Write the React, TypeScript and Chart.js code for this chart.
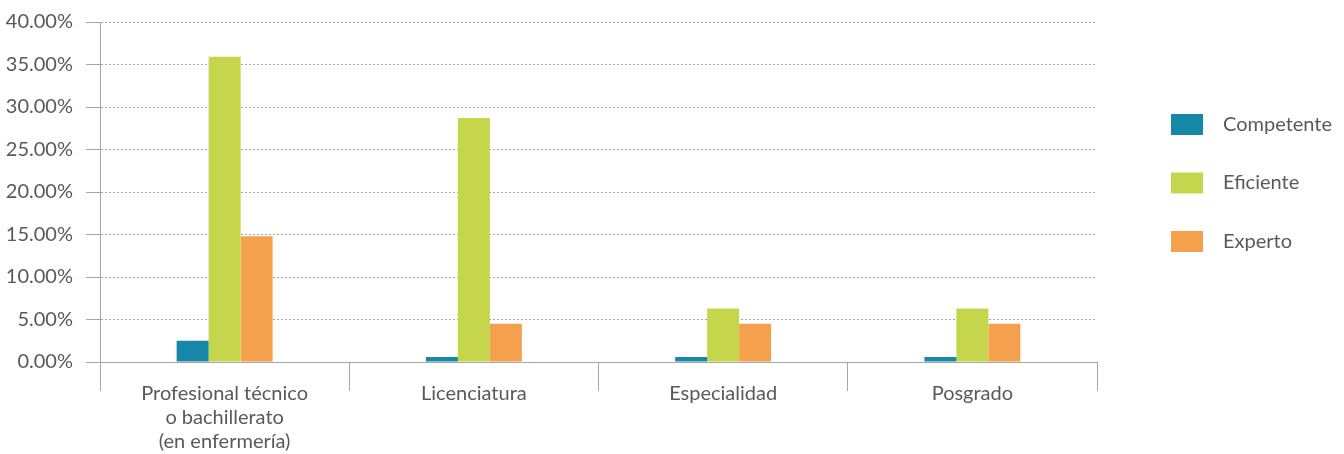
import React, { useEffect, useRef } from "react";
import { Chart, registerables } from "chart.js";

Chart.register(...registerables);

const categories: (string | string[])[] = [
  ["Profesional técnico", "o bachillerato", "(en enfermería)"],
  "Licenciatura",
  "Especialidad",
  "Posgrado",
];
const seriesNames = ["Competente", "Eficiente", "Experto"];
const competente = [2.5, 0.6, 0.6, 0.6];
const eficiente = [35.9, 28.7, 6.3, 6.3];
const experto = [14.8, 4.5, 4.5, 4.5];
const colors = ["#1787a8", "#c5d54c", "#f5a04d"];
const yTicks = [0, 5, 10, 15, 20, 25, 30, 35, 40];

const FONT = "Lato";
const TEXT = "#595959";
const GRID = "#a6a6a6";

const legendPlugin = {
  id: "sideLegend",
  afterDraw(chart: any) {
    const ctx = chart.ctx;
    ctx.save();
    ctx.font = `20px ${FONT}`;
    ctx.textBaseline = "middle";
    ctx.textAlign = "left";
    chart.data.datasets.forEach((ds: any, i: number) => {
      const cy = 124.5 + i * 58.5;
      ctx.fillStyle = ds.backgroundColor;
      ctx.fillRect(1171, cy - 10.5, 32, 21);
      ctx.fillStyle = TEXT;
      ctx.fillText(ds.label, 1223, cy);
    });
    ctx.restore();
  },
};

export default function App() {
  const ref = useRef<HTMLCanvasElement>(null);
  useEffect(() => {
    document.body.style.margin = "0";
    const chart = new Chart(ref.current!, {
      type: "bar",
      data: {
        labels: categories,
        datasets: [competente, eficiente, experto].map((d, i) => ({
          label: seriesNames[i],
          data: d,
          backgroundColor: colors[i],
          categoryPercentage: 0.385,
          barPercentage: 1,
        })),
      },
      options: {
        animation: false,
        responsive: false,
        layout: { padding: { top: 22, right: 247, bottom: 0, left: 0 } },
        plugins: { legend: { display: false }, tooltip: { enabled: false } },
        scales: {
          x: {
            offset: true,
            grid: {
              offset: true,
              drawOnChartArea: false,
              drawTicks: true,
              tickLength: 29,
              color: GRID,
              tickColor: GRID,
            },
            border: { display: true, color: GRID, width: 1 },
            ticks: {
              color: TEXT,
              font: { family: FONT, size: 20, lineHeight: 1.2 },
              padding: -9,
              maxRotation: 0,
              autoSkip: false,
            },
            afterFit(scale: any) {
              scale.height = 92;
            },
          },
          y: {
            min: 0,
            max: 40,
            afterBuildTicks(scale: any) {
              scale.ticks = yTicks.map((v) => ({ value: v }));
            },
            grid: {
              color: GRID,
              tickColor: GRID,
              tickLength: 14,
              tickBorderDash: [],
              drawTicks: true,
            },
            border: { display: true, color: GRID, width: 1, dash: [2, 2] },
            ticks: {
              color: TEXT,
              font: { family: FONT, size: 20, lineHeight: 0.4 },
              padding: 13,
              callback: (v: any) => Number(v).toFixed(2) + "%",
            },
            afterFit(scale: any) {
              scale.width = 100;
            },
          },
        },
      },
      plugins: [legendPlugin],
    });
    return () => chart.destroy();
  }, []);
  return (
    <div style={{ width: 1344, height: 454 }}>
      <canvas ref={ref} width={1344} height={454} style={{ display: "block" }} />
    </div>
  );
}
